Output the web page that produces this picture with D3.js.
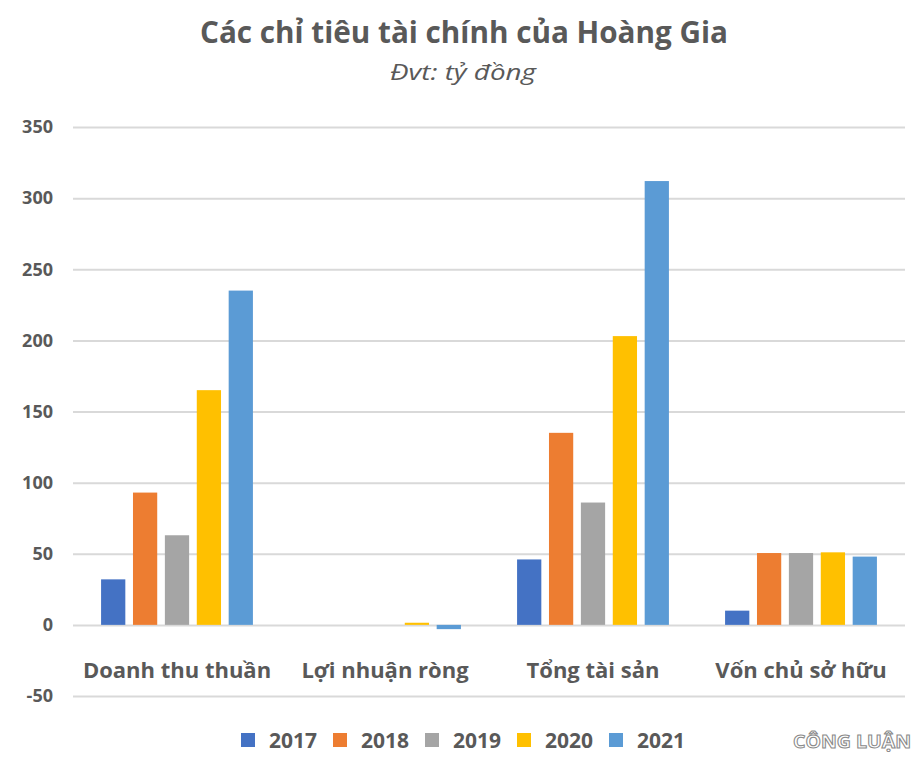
<!DOCTYPE html>
<html>
<head>
<meta charset="utf-8">
<script src="https://cdn.jsdelivr.net/npm/d3@7"></script>
<style>
  body { margin: 0; background: #fff; }
  text { font-family: "Open Sans", "Noto Sans", sans-serif; }
</style>
</head>
<body>
<div id="chart"></div>
<script>
var categories = ['Doanh thu thuần', 'Lợi nhuận ròng', 'Tổng tài sản', 'Vốn chủ sở hữu'];
var years = ['2017', '2018', '2019', '2020', '2021'];
var colors = ['#4472C4', '#ED7D31', '#A5A5A5', '#FFC000', '#5B9BD5'];
// one array per year, in category order
var v2017 = [32, 0, 46, 10];
var v2018 = [93, 0, 135, 50.5];
var v2019 = [63, 0, 86, 50.5];
var v2020 = [165, 1.5, 203, 51];
var v2021 = [235, -3, 312, 48];
var yTicks = [-50, 0, 50, 100, 150, 200, 250, 300, 350];

var series = [v2017, v2018, v2019, v2020, v2021];

var width = 922, height = 762,
    margin = {top: 127, right: 17, bottom: 66, left: 73};

var svg = d3.select('#chart').append('svg')
  .attr('width', width)
  .attr('height', height);

var x0 = d3.scaleBand()
  .domain(categories)
  .range([margin.left, width - margin.right])
  .paddingInner(0.27)
  .paddingOuter(0.135);

var x1 = d3.scaleBand()
  .domain(years)
  .range([0, x0.bandwidth()])
  .paddingInner(0.24);

var y = d3.scaleLinear()
  .domain([-50, 350])
  .range([height - margin.bottom, margin.top]);

// title
svg.append('text')
  .attr('x', 464).attr('y', 43)
  .attr('text-anchor', 'middle')
  .style('font-size', '30px')
  .style('font-weight', 'bold')
  .attr('textLength', 528)
  .attr('lengthAdjust', 'spacingAndGlyphs')
  .attr('fill', '#595959')
  .text('Các chỉ tiêu tài chính của Hoàng Gia');

svg.append('text')
  .attr('x', 463).attr('y', 80)
  .attr('text-anchor', 'middle')
  .style('font-size', '22px')
  .style('font-style', 'italic')
  .attr('textLength', 146)
  .attr('lengthAdjust', 'spacingAndGlyphs')
  .attr('fill', '#595959')
  .text('Đvt: tỷ đồng');

// gridlines + y labels
var yAxis = d3.axisLeft(y)
  .tickValues(yTicks)
  .tickFormat(function (d) { return String(d); })
  .tickSize(-(width - margin.left - margin.right))
  .tickPadding(20);

var gy = svg.append('g')
  .attr('transform', 'translate(' + margin.left + ',0)')
  .call(yAxis);
gy.select('.domain').remove();
gy.selectAll('.tick line').attr('stroke', '#d9d9d9').attr('stroke-width', 2);
gy.selectAll('.tick text')
  .attr('fill', '#595959')
  .style('font-size', '18px')
  .style('font-weight', 'bold')
  .attr('x', -20);

// bars
var groups = svg.append('g').selectAll('g')
  .data(categories)
  .enter().append('g')
  .attr('transform', function (d) { return 'translate(' + x0(d) + ',0)'; });

groups.selectAll('rect')
  .data(function (d, i) {
    return years.map(function (yr, j) { return {year: yr, value: series[j][i], color: colors[j]}; });
  })
  .enter().append('rect')
  .attr('x', function (d) { return x1(d.year); })
  .attr('width', x1.bandwidth())
  .attr('y', function (d) { return y(Math.max(0, d.value)); })
  .attr('height', function (d) { return Math.abs(y(d.value) - y(0)); })
  .attr('fill', function (d) { return d.color; });

// category labels
svg.append('g').selectAll('text')
  .data(categories)
  .enter().append('text')
  .attr('x', function (d) { return x0(d) + x0.bandwidth() / 2; })
  .attr('y', 678)
  .attr('text-anchor', 'middle')
  .attr('fill', '#595959')
  .style('font-size', '22px')
  .style('font-weight', 'bold')
  .text(function (d) { return d; });

// legend
var legend = svg.append('g').selectAll('g')
  .data(years)
  .enter().append('g')
  .attr('transform', function (d, i) { return 'translate(' + (241 + i * 92) + ',733)'; });

legend.append('rect')
  .attr('width', 14).attr('height', 14)
  .attr('fill', function (d, i) { return colors[i]; });

legend.append('text')
  .attr('x', 28).attr('y', 15)
  .attr('fill', '#595959')
  .style('font-size', '21px')
  .style('font-weight', 'bold')
  .text(function (d) { return d; });

// watermark
svg.append('text')
  .attr('x', 852).attr('y', 748)
  .attr('text-anchor', 'middle')
  .attr('fill', '#ffffff')
  .attr('stroke', '#8a8a8a')
  .attr('stroke-width', 1)
  .style('font-size', '18px')
  .style('font-weight', 'bold')
  .attr('textLength', 118)
  .attr('lengthAdjust', 'spacingAndGlyphs')
  .text('CÔNG LUẬN');
</script>
</body>
</html>
